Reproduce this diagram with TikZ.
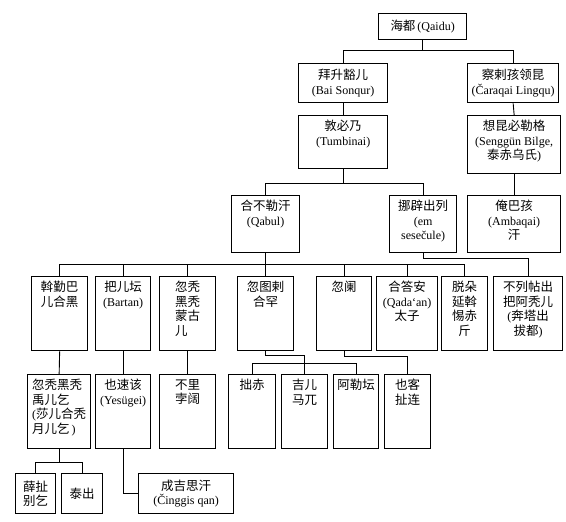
\documentclass[tikz,border=0pt]{standalone}
\usepackage{fontspec}
\setmainfont{Liberation Serif}
\newfontfamily\cjk[Scale=1.04]{Noto Sans CJK SC}
\newcommand{\zh}[1]{{\cjk #1}}
\tikzset{
  frame/.style={draw=black, line width=1.3bp, inner sep=0pt},
  lbl/.style={inner sep=1bp, font=\fontsize{12bp}{14.5bp}\selectfont},
  conn/.style={draw=black, line width=0.9bp},
}
% top-aligned text box: name, x, y, w, h, align, text
\newcommand{\kinbox}[7]{%
  \node[frame, minimum width=#4bp, minimum height=#5bp, anchor=north west] (#1) at (#2,#3) {};
  \node[lbl, align=#6, anchor=north] (#1-t) at ([yshift=-4bp]#1.north) {#7};}
% centred text box
\newcommand{\kinboxc}[7]{%
  \node[frame, minimum width=#4bp, minimum height=#5bp, anchor=north west] (#1) at (#2,#3) {};
  \node[lbl, align=#6, anchor=center] (#1-t) at (#1.center) {#7};}
\begin{document}
\begin{tikzpicture}[x=1bp, y=-1bp]
\useasboundingbox (0,0) rectangle (566,522);
% row 1
\kinboxc{qaidu}{378}{13}{88}{26}{center}{\zh{海都}\,(Qaidu)}
% row 2
\kinboxc{bai}{298}{63}{89}{39}{center}{\zh{拜升豁儿}\\(Bai Sonqur)}
\kinboxc{caraqai}{467}{63}{91}{39}{center}{\zh{察剌孩领昆}\\(Čaraqai Lingqu)}
% row 2b
\kinbox{tumbinai}{298}{115}{89}{53}{center}{\zh{敦必乃}\\(Tumbinai)}
\kinbox{senggun}{467}{115}{93}{58}{center}{\zh{想昆必勒格}\\(Senggün Bilge,\\\zh{泰赤乌氏})}
% row 3
\kinbox{qabul}{231}{195}{68}{57}{center}{\zh{合不勒汗}\\(Qabul)}
\kinbox{nachin}{389}{195}{67}{57}{center}{\zh{挪辟出列}\\(em\\sesečule)}
\kinbox{ambaqai}{467}{195}{93}{57}{center}{\zh{俺巴孩}\\(Ambaqai)\\\zh{汗}}
% row 4
\kinbox{ogbar}{31}{276}{56}{74}{center}{\zh{斡勤巴}\\\zh{儿合黑}}
\kinbox{bartan}{95}{276}{55}{74}{center}{\zh{把儿坛}\\(Bartan)}
\kinbox{mongqur}{159}{276}{56}{74}{left}{\zh{忽秃}\\\zh{黑秃}\\\zh{蒙古}\\\zh{儿}}
\kinbox{qutula}{237}{276}{56}{74}{center}{\zh{忽图剌}\\\zh{合罕}}
\kinbox{qulan}{316}{276}{55}{74}{center}{\zh{忽阑}}
\kinbox{qadaan}{376}{276}{61}{74}{center}{\zh{合答安}\\(Qada`an)\\\zh{太子}}
\kinbox{todoyen}{441}{276}{46}{74}{center}{\zh{脱朵}\\\zh{延斡}\\\zh{惕赤}\\\zh{斤}}
\kinbox{bultechu}{493}{276}{69}{74}{center}{\zh{不列帖出}\\\zh{把阿秃儿}\\(\zh{奔塔出}\\\zh{拔都})}
% row 5
\kinbox{yurki}{27}{374}{63}{74}{left}{\zh{忽秃黑秃}\\\zh{禹儿乞}\\(\zh{莎儿合秃}\\\zh{月儿乞}\,)}
\kinbox{yesugei}{95}{374}{55}{74}{center}{\zh{也速该}\\(Yesügei)}
\kinbox{buri}{159}{374}{56}{74}{center}{\zh{不里}\\\zh{孛阔}}
\kinbox{joci}{228}{374}{47}{74}{center}{\zh{拙赤}}
\kinbox{girmau}{281}{374}{46}{74}{center}{\zh{吉儿}\\\zh{马兀}}
\kinbox{altan}{333}{374}{45}{74}{center}{\zh{阿勒坛}}
\kinbox{yeke}{384}{374}{46}{74}{center}{\zh{也客}\\\zh{扯连}}
% row 6
\kinboxc{seche}{15}{473}{40}{40}{center}{\zh{薛扯}\\\zh{别乞}}
\kinboxc{taichu}{61}{473}{41}{40}{center}{\zh{泰出}}
\kinboxc{chinggis}{138}{473}{95}{40}{center}{\zh{成吉思汗}\\(Činggis qan)}
% bus levels
\coordinate (L1) at (0,50);
\coordinate (L2) at (0,183);
\coordinate (L3) at (0,264);
\coordinate (L4) at (0,258);
\coordinate (L5) at (0,355);
\coordinate (L6) at (0,363);
\coordinate (L7) at (0,356);
\coordinate (L8) at (0,462);
% connectors
\draw[conn] (qaidu.south) -- (qaidu.south |- L1);
\draw[conn] (bai.north) |- (caraqai.north |- L1) -- (caraqai.north);
\draw[conn] (bai.south) -- (tumbinai.north);
\draw[conn] (caraqai.south) -- (senggun.north);
\draw[conn] (senggun.south) -- (ambaqai.north);
\draw[conn] (tumbinai.south) -- (tumbinai.south |- L2);
\draw[conn] (qabul.north) |- (nachin.north |- L2) -- (nachin.north);
\draw[conn] (qabul.south) -- (qabul.south |- L3);
\draw[conn] (ogbar.north) |- (todoyen.north |- L3) -- (todoyen.north);
\foreach \n in {bartan,mongqur,qutula,qulan,qadaan}
  \draw[conn] (\n.north) -- (\n.north |- L3);
\draw[conn] (nachin.south) |- (bultechu.north |- L4) -- (bultechu.north);
\draw[conn] (ogbar.south) -- (yurki.north);
\draw[conn] (bartan.south) -- (yesugei.north);
\draw[conn] (mongqur.south) -- (buri.north);
\draw[conn] (qutula.south) |- (girmau.north |- L5) -- (girmau.north);
\draw[conn] (joci.north) |- (altan.north |- L6) -- (altan.north);
\draw[conn] (qulan.south) |- (yeke.north |- L7) -- (yeke.north);
\draw[conn] (yurki.south) -- (yurki.south |- L8);
\draw[conn] (seche.north) |- (taichu.north |- L8) -- (taichu.north);
\draw[conn] (yesugei.south) |- (chinggis.west);
\end{tikzpicture}
\end{document}
